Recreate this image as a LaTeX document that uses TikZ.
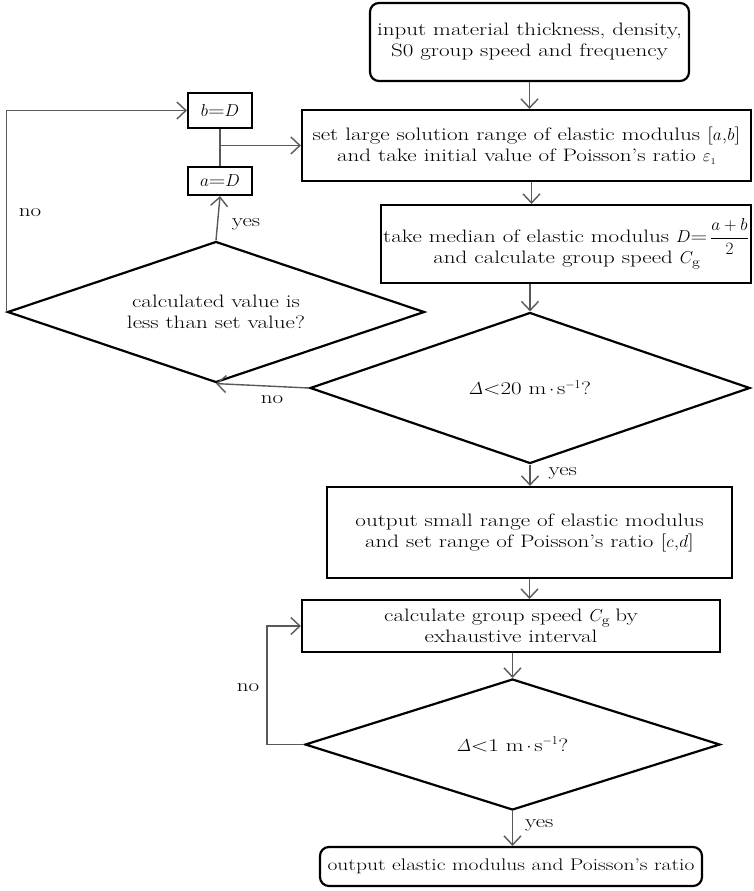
\documentclass[tikz,border=0pt]{standalone}
\usepackage{amsmath}
\usepackage{fontspec}
\setmainfont{Latin Modern Roman}[FakeStretch=1.28]
\usetikzlibrary{shapes.geometric,arrows.meta,calc}
\begin{document}
\begin{tikzpicture}[x=1pt,y=-1pt,
  every node/.style={font=\fontsize{18}{21}\selectfont, align=center, inner sep=0pt},
  box/.style={draw=black, line width=2.2pt, rectangle},
  rbox/.style={draw=black, line width=2.2pt, rectangle, rounded corners=9pt},
  dia/.style={draw=black, line width=2.2pt, diamond, shape aspect=2.8},
  conn/.style={draw=black!65, line width=1.4pt, -{Straight Barb[length=9pt,width=17pt,line width=1.4pt]}},
  line/.style={draw=black!65, line width=1.4pt},
  lbl/.style={font=\fontsize{18}{21}\selectfont}]
\useasboundingbox (0,0) rectangle (753,891);
\node[rbox, minimum width=319, minimum height=78] (start) at (529.5,42) {input material thickness, density,\\ S0 group speed and frequency};
\node[box, minimum width=449, minimum height=71] (box2) at (526.5,145.5) {set large solution range of elastic modulus [$a$,$b$]\\ and take initial value of Poisson's ratio $\varepsilon_{\scriptscriptstyle 1}$};
\node[box, minimum width=370, minimum height=78] (box3) at (566,244) {take median of elastic modulus $D$=\,$\displaystyle\frac{a+b}{2}$\\[-4pt] and calculate group speed $C_{\mathrm g}$};
\node[dia, minimum width=440, minimum height=151] (d1) at (530,388) {$\varDelta$<20 m$\,\cdot\,$s$^{-1}$?};
\node[dia, minimum width=417, minimum height=141] (d0) at (216,312) {calculated value is\\ less than set value?};
\node[box, minimum width=64, minimum height=35] (bD) at (220,110.5) {$b$=$D$};
\node[box, minimum width=64, minimum height=28] (aD) at (220,181) {$a$=$D$};
\node[box, minimum width=405, minimum height=91] (box4) at (529.5,532.5) {output small range of elastic modulus\\ and set range of Poisson's ratio [$c$,$d$]};
\node[box, minimum width=418, minimum height=52] (box5) at (511,626) {calculate group speed $C_{\mathrm g}$ by\\ exhaustive interval};
\node[dia, minimum width=415, minimum height=131] (d2) at (512.5,744.5) {$\varDelta$<1 m$\,\cdot\,$s$^{-1}$?};
\node[rbox, minimum width=382, minimum height=39, font=\fontsize{16.8}{21}\selectfont] (fin) at (511,866.5) {output elastic modulus and Poisson's ratio};
% connectors
\draw[conn] (start.south) -- (start.south |- box2.north);
\draw[conn] ([xshift=5pt]box2.south) -- ([xshift=5pt]box2.south |- box3.north);
\draw[conn] (box3.south -| d1.north) -- (d1.north);
\draw[conn] (d1.south) -- (d1.south |- box4.north) node[lbl, pos=0.4, right=18pt] {yes};
\draw[conn] (box4.south) -- (box4.south |- box5.north);
\draw[conn] (box5.south -| d2.north) -- (d2.north);
\draw[conn] (d2.south) -- (d2.south |- fin.north) node[lbl, pos=0.4, right=12pt] {yes};
\coordinate (lp2) at ($(d2.west)+(-37,0)$);
\draw[conn] (d2.west) -- (lp2) |- (box5.west);
\node[lbl] (no2) at (248,688) {no};
\draw[conn] (d1.west) -- (d0.south);
\node[lbl] (no1) at (272,400) {no};
\draw[conn] (d0.north) -- (aD.south);
\node[lbl] (yes0) at (246,224) {yes};
\draw[line] (bD.south) -- (aD.north);
\coordinate (br) at (bD.south |- box2.west);
\draw[conn] (br) -- (box2.west);
\draw[conn] (d0.west) |- (bD.west);
\node[lbl] (no0) at (30,213) {no};
\end{tikzpicture}
\end{document}
